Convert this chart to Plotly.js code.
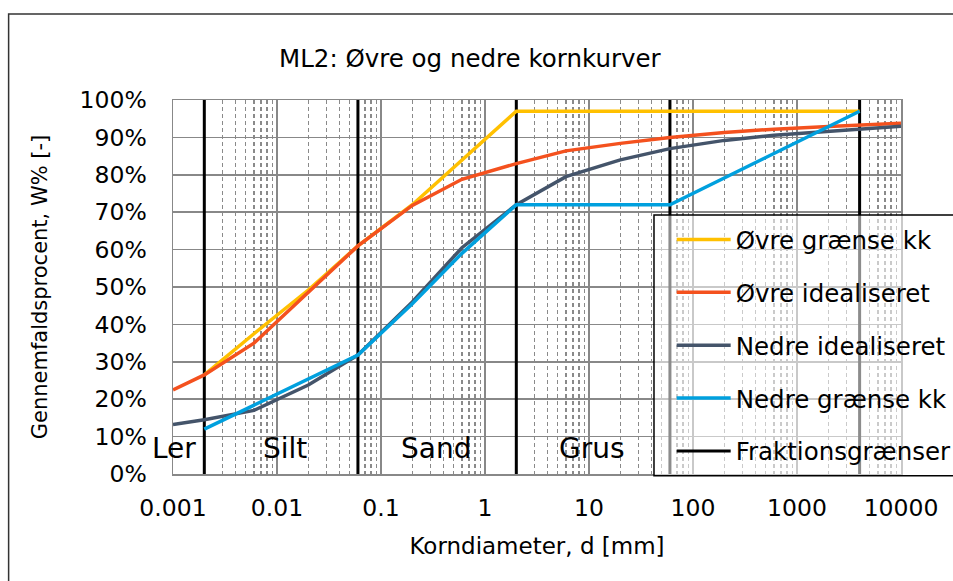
<!DOCTYPE html>
<html>
<head>
<meta charset="utf-8">
<script src="https://cdn.plot.ly/plotly-3.0.1.min.js"></script>
<style>
html,body{margin:0;padding:0;background:#fff;}
#chart{width:953px;height:581px;}
</style>
</head>
<body>
<div id="chart"></div>
<script>
// ---- data ----
const seriesNames = ['Øvre grænse kk', 'Øvre idealiseret', 'Nedre idealiseret', 'Nedre grænse kk', 'Fraktionsgrænser'];

const xUpperLimit = [0.002, 0.006, 0.02, 0.06, 0.2, 0.6, 2, 4000];
const yUpperLimit = [26.5, 37.5, 49.2, 61, 72, 84, 97, 97];

const xIdealised = [0.001, 0.002, 0.006, 0.02, 0.06, 0.2, 0.6, 2, 6, 20, 60, 200, 600, 2000, 6000, 10000];
const yUpperIdeal = [22.5, 26.5, 35, 48.5, 61, 71.8, 78.8, 83, 86.4, 88.4, 90, 91.3, 92.2, 92.9, 93.5, 93.8];
const yLowerIdeal = [13.2, 14.5, 17, 23.8, 31.8, 46, 60.5, 72, 79.5, 84, 87, 89.2, 90.6, 91.6, 92.4, 93];

const xLowerLimit = [0.002, 0.006, 0.02, 0.06, 0.2, 0.6, 2, 60, 4000];
const yLowerLimit = [12, 18.4, 25.5, 31.8, 45.5, 59, 72, 72, 97];

const fractionBounds = [0.002, 0.06, 2, 60, 4000];
const fractionLabels = ['Ler', 'Silt', 'Sand', 'Grus'];
const fractionLabelX = [0.00103, 0.012, 0.34, 10.7];
const fractionLabelY = 6.8;

const xTickVals = [0.001, 0.01, 0.1, 1, 10, 100, 1000, 10000];
const xTickText = ['0.001', '0.01', '0.1', '1', '10', '100', '1000', '10000'];

// ---- build traces ----
const fx = [], fy = [];
fractionBounds.forEach(v => { fx.push(v, v, null); fy.push(0, 100, null); });

const FONT = 'DejaVu Sans, Verdana, sans-serif';

const traces = [
  {x: fx, y: fy, name: seriesNames[4], mode: 'lines', line: {color: '#000000', width: 3}, legendgroup: 'g5', legendrank: 5},
  {x: xUpperLimit, y: yUpperLimit, name: seriesNames[0], mode: 'lines', line: {color: '#FFC000', width: 3.5}, legendgroup: 'g1', legendrank: 1},
  {x: xIdealised, y: yUpperIdeal, name: seriesNames[1], mode: 'lines', line: {color: '#F4511E', width: 3.5}, legendgroup: 'g2', legendrank: 2},
  {x: xIdealised, y: yLowerIdeal, name: seriesNames[2], mode: 'lines', line: {color: '#44546A', width: 3.5}, legendgroup: 'g3', legendrank: 3},
  {x: xLowerLimit, y: yLowerLimit, name: seriesNames[3], mode: 'lines', line: {color: '#00A0DE', width: 3.5}, legendgroup: 'g4', legendrank: 4}
];

const annotations = fractionLabels.map((t, i) => ({
  x: Math.log10(fractionLabelX[i]), y: fractionLabelY, xref: 'x', yref: 'y',
  text: t, showarrow: false, font: {family: FONT, size: 28, color: '#000'},
  xanchor: 'center', yanchor: 'middle'
}));

const layout = {
  width: 953, height: 581,
  margin: {l: 173, r: 52, t: 100, b: 107, autoexpand: false},
  paper_bgcolor: '#ffffff', plot_bgcolor: '#ffffff',
  font: {family: FONT, size: 23, color: '#000'},
  title: {text: 'ML2: Øvre og nedre kornkurver', font: {family: FONT, size: 24.5, color: '#000'}, x: 0.493, xanchor: 'center', y: 0.9, yanchor: 'middle'},
  hovermode: false,
  showlegend: true,
  legend: {
    x: 0.685, xanchor: 'left', y: 0.687, yanchor: 'top',
    bgcolor: 'rgba(0,0,0,0)', borderwidth: 0,
    font: {family: FONT, size: 24.5, color: '#000'},
    traceorder: 'grouped', tracegroupgap: 18, itemwidth: 54
  },
  xaxis: {
    type: 'log', range: [-3, 4], automargin: false,
    tickvals: xTickVals, ticktext: xTickText,
    ticks: '', ticklabelstandoff: 12,
    showgrid: true, gridcolor: '#888888', gridwidth: 1.5,
    minor: {dtick: 'D1', showgrid: true, gridcolor: '#8a8a8a', gridwidth: 1.4, griddash: '4px,3px', ticks: ''},
    zeroline: false, showline: true, linecolor: '#888888', linewidth: 1.5, mirror: true,
    tickfont: {family: FONT, size: 23.5},
    title: {text: 'Korndiameter, d [mm]', font: {family: FONT, size: 23}, standoff: 17}
  },
  yaxis: {
    range: [0, 100], dtick: 10, ticksuffix: '%', automargin: false,
    ticks: '', ticklabelstandoff: 20,
    showgrid: true, gridcolor: '#888888', gridwidth: 1.5,
    zeroline: false, showline: true, linecolor: '#888888', linewidth: 1.5, mirror: true,
    tickfont: {family: FONT, size: 23.5},
    title: {text: 'Gennemfaldsprocent, W% [-]', font: {family: FONT, size: 21}, standoff: 26}
  },
  annotations: annotations,
  shapes: [
    {type: 'rect', xref: 'paper', yref: 'paper', x0: -0.2258, x1: 1.4, y0: -0.5, y1: 1.23,
     line: {color: '#333', width: 1.5}, fillcolor: 'rgba(0,0,0,0)', layer: 'below'},
    {type: 'rect', xref: 'paper', yref: 'paper', x0: 0.6607, x1: 1.4, y0: -0.005, y1: 0.6925,
     line: {color: '#000', width: 1.5}, fillcolor: 'rgba(255,255,255,0.55)', layer: 'above'}
  ]
};

Plotly.newPlot('chart', traces, layout, {displayModeBar: false, staticPlot: true});
</script>
</body>
</html>
